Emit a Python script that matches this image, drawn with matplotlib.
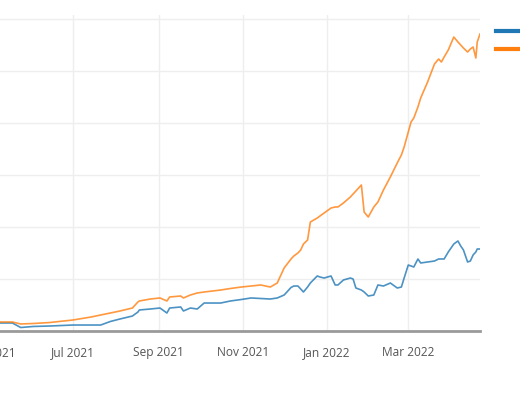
import numpy as np
import pandas as pd
import matplotlib
matplotlib.use("Agg")
import matplotlib.pyplot as plt
import matplotlib.dates as mdates
from matplotlib.transforms import blended_transform_factory

plt.rcParams['font.family'] = ['Open Sans', 'DejaVu Sans']

# dates shared by both series
dates = [
    "2021-05-09", "2021-05-18", "2021-05-24", "2021-06-02", "2021-06-14",
    "2021-07-01", "2021-07-14", "2021-07-21", "2021-07-28", "2021-08-04",
    "2021-08-13", "2021-08-17", "2021-08-18", "2021-08-26", "2021-09-02",
    "2021-09-07", "2021-09-09", "2021-09-17", "2021-09-19", "2021-09-24",
    "2021-09-29", "2021-10-04", "2021-10-16", "2021-10-23", "2021-10-31",
    "2021-11-07", "2021-11-14", "2021-11-21", "2021-11-26", "2021-12-01",
    "2021-12-06", "2021-12-08", "2021-12-11", "2021-12-13", "2021-12-15",
    "2021-12-18", "2021-12-20", "2021-12-25", "2021-12-27", "2021-12-30",
    "2022-01-04", "2022-01-07", "2022-01-09", "2022-01-13", "2022-01-18",
    "2022-01-20", "2022-01-22", "2022-01-26", "2022-01-28", "2022-01-31",
    "2022-02-04", "2022-02-07", "2022-02-11", "2022-02-16", "2022-02-21",
    "2022-02-24", "2022-02-26", "2022-03-01", "2022-03-03", "2022-03-05",
    "2022-03-08", "2022-03-10", "2022-03-15", "2022-03-20", "2022-03-23",
    "2022-03-25", "2022-03-27", "2022-03-30", "2022-04-03", "2022-04-06",
    "2022-04-08", "2022-04-10", "2022-04-13", "2022-04-15", "2022-04-17",
    "2022-04-19", "2022-04-20", "2022-04-22",
]

blue_values = [
    1.54, 1.54, 0.67, 0.87, 0.96,
    1.15, 1.15, 1.15, 1.83, 2.31,
    2.88, 3.65, 4.04, 4.23, 4.42,
    3.46, 4.42, 4.62, 3.85, 4.42,
    4.23, 5.38, 5.38, 5.77, 6.06,
    6.35, 6.25, 6.15, 6.35, 6.92,
    8.37, 8.65, 8.65, 8.08, 7.50,
    8.46, 9.23, 10.58, 10.38, 10.19,
    10.58, 8.85, 8.85, 9.81, 10.19,
    10.0, 8.27, 7.88, 7.50, 6.73,
    6.92, 8.85, 8.65, 9.23, 8.27,
    8.46, 10.19, 12.69, 12.5, 12.31,
    13.85, 13.08, 13.27, 13.46, 13.85,
    13.85, 13.85, 15.19, 16.73, 17.31,
    16.35, 15.58, 13.27, 13.46, 14.62,
    15.2, 15.77, 15.77,
]

orange_values = [
    1.73, 1.73, 1.35, 1.44, 1.63,
    2.12, 2.69, 3.08, 3.46, 3.85,
    4.42, 5.58, 5.77, 6.15, 6.35,
    5.77, 6.54, 6.73, 6.35, 6.92,
    7.31, 7.50, 7.88, 8.17, 8.46,
    8.65, 8.85, 8.46, 9.23, 12.12,
    13.85, 14.42, 15.0, 15.58, 16.73,
    17.5, 20.96, 21.73, 22.12, 22.69,
    23.65, 23.85, 23.85, 24.62, 25.77,
    26.35, 26.92, 28.08, 22.88, 21.92,
    23.85, 24.81, 27.12, 29.62, 32.31,
    33.85, 35.38, 38.27, 40.19, 40.96,
    43.08, 44.81, 47.88, 51.35, 52.31,
    51.73, 52.69, 54.04, 56.54, 55.58,
    55.0, 54.42, 53.65, 54.23, 54.62,
    52.5, 55.58, 57.12,
]

series_names = ["trace 0", "trace 1"]
yticks = [0, 10, 20, 30, 40, 50, 60]
xtick_dates = ["2021-07-01", "2021-09-01", "2021-11-01", "2022-01-01", "2022-03-01"]
cut_tick = "2021-05-01"

d = pd.to_datetime(dates)

W, H = 520, 400
fig = plt.figure(figsize=(W / 100, H / 100), dpi=100)
ax = fig.add_axes([0, 69 / H, 480 / W, 316 / H])

l1, = ax.plot(d, blue_values, color="#1f77b4", lw=1.2, alpha=0.8, label=series_names[0])
l2, = ax.plot(d, orange_values, color="#ff7f0e", lw=1.2, alpha=0.8, label=series_names[1])

ax.set_xlim(pd.Timestamp("2021-05-09"), pd.Timestamp("2022-04-22"))
ax.set_ylim(0, 60.77)
ax.set_yticks(yticks)
ax.set_xticks(pd.to_datetime(xtick_dates))
ax.xaxis.set_major_formatter(mdates.DateFormatter("%b %Y"))
ax.grid(True, color="#eeeeee", lw=1)
ax.set_axisbelow(True)
ax.tick_params(axis="x", length=0, pad=11, labelsize=8.6, labelcolor="#555555")
ax.tick_params(axis="y", length=0, labelleft=False)
for s in ["top", "right", "left"]:
    ax.spines[s].set_visible(False)
ax.spines["bottom"].set_color("#9a9a9a")
ax.spines["bottom"].set_linewidth(2)

# May 2021 label falls just outside the visible range; only its end shows
tr = blended_transform_factory(ax.transData, ax.transAxes)
ax.text(mdates.date2num(pd.Timestamp(cut_tick)), 0, "May 2021", transform=tr,
        ha="center", va="top", fontsize=8.6, color="#555555", clip_on=False,
        bbox=None).set_y(-15.5 / 316)

fig.legend(handles=[l1, l2], loc="upper left", bbox_to_anchor=(496 / W, 1 - 25 / H),
           frameon=False, fontsize=9, handlelength=2.6, labelspacing=0.45,
           borderpad=0, borderaxespad=0, handletextpad=0.5)
for h in fig.legends[0].get_lines():
    h.set_linewidth(3)
    h.set_alpha(1)

fig.savefig("out.png", dpi=100)
